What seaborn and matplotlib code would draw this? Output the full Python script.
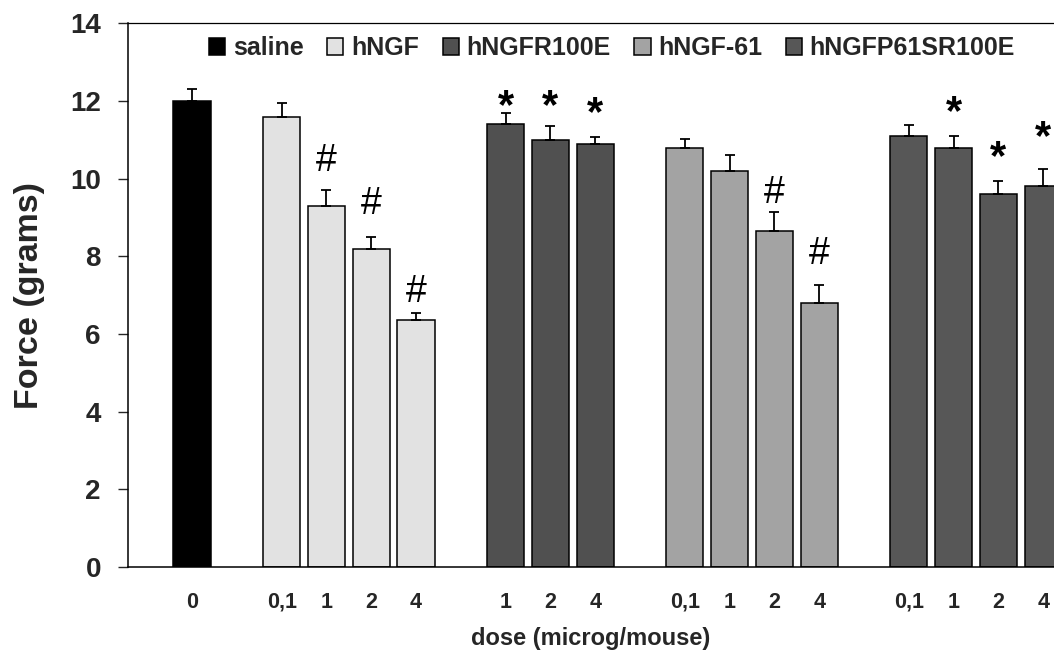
import numpy as np
import pandas as pd
import matplotlib
matplotlib.use("Agg")
import matplotlib.pyplot as plt
import seaborn as sns

# ---- data ----
groups = ["saline", "hNGF", "hNGFR100E", "hNGF-61", "hNGFP61SR100E"]
doses = [
    ["0"],
    ["0,1", "1", "2", "4"],
    ["1", "2", "4"],
    ["0,1", "1", "2", "4"],
    ["0,1", "1", "2", "4"],
]
force_mean = [
    [12.0],
    [11.6, 9.3, 8.2, 6.35],
    [11.4, 11.0, 10.9],
    [10.8, 10.2, 8.65, 6.8],
    [11.1, 10.8, 9.6, 9.8],
]
force_sem = [
    [0.3],
    [0.35, 0.4, 0.3, 0.2],
    [0.28, 0.35, 0.17],
    [0.22, 0.4, 0.48, 0.45],
    [0.28, 0.3, 0.35, 0.45],
]
# significance marks and the height (in grams) at which they sit
marks = [
    [""],
    ["", "#", "#", "#"],
    ["*", "*", "*"],
    ["", "", "#", "#"],
    ["", "*", "*", "*"],
]
mark_y = [
    [0],
    [0, 10.46, 9.35, 7.08],
    [12.13, 12.13, 11.95],
    [0, 0, 9.63, 8.06],
    [0, 11.97, 10.82, 11.33],
]
colors = ["#000000", "#e2e2e2", "#505050", "#a3a3a3", "#575757"]

# ---- build table (slot positions: one empty slot between groups) ----
rows = []
slot = 0
for g, ds, ms, es, mk, my in zip(groups, doses, force_mean, force_sem, marks, mark_y):
    for d, m, e, k, y in zip(ds, ms, es, mk, my):
        rows.append(dict(group=g, dose=d, force=m, sem=e, mark=k, mark_y=y, pos=slot))
        slot += 1
    slot += 1
df = pd.DataFrame(rows)

sns.set_style("white")
plt.rcParams["font.family"] = ["Liberation Sans", "DejaVu Sans"]

fig = plt.figure(figsize=(10.54, 6.51), dpi=100)
W, H = 1054, 651
ax = fig.add_axes([128 / W, 1 - 567 / H, 1 - 128 / W, (567 - 23.3) / H])

sns.barplot(data=df, x="pos", y="force", hue="group", hue_order=groups,
            palette=colors, native_scale=True, dodge=False, width=0.83,
            edgecolor="black", linewidth=1.1, errorbar=None, ax=ax, saturation=1)

ax.errorbar(df["pos"], df["force"], yerr=[np.zeros(len(df)), df["sem"]],
            fmt="none", ecolor="black", elinewidth=1.3, capsize=3.8, capthick=1.3, zorder=3)

for _, r in df.iterrows():
    if r["mark"] == "#":
        ax.text(r["pos"], r["mark_y"], "#", ha="center", va="center",
                fontsize=27, fontweight="normal", color="black")
    elif r["mark"] == "*":
        ax.text(r["pos"], r["mark_y"] - 0.28, "*", ha="center", va="center",
                fontsize=30, fontweight="bold", color="black")

ax.set_xlim(-1.43, 19.24)
ax.set_ylim(0, 14)
ax.set_yticks(np.arange(0, 15, 2))
ax.set_xticks(df["pos"])
ax.set_xticklabels(df["dose"])

for t in ax.get_xticklabels():
    t.set_fontweight("bold")
    t.set_fontsize(15.5)
    t.set_verticalalignment("baseline")
for t in ax.get_yticklabels():
    t.set_fontweight("bold")
    t.set_fontsize(20)

ax.tick_params(axis="x", length=0, pad=29.5)
ax.tick_params(axis="y", direction="out", length=7.5, width=1.0, pad=12, left=True)

ax.set_xlabel("dose (microg/mouse)", fontsize=17, fontweight="bold")
ax.xaxis.set_label_coords(0.5, -(645 - 567) / (567 - 23.3))
ax.xaxis.label.set_verticalalignment("baseline")
ax.set_ylabel("Force (grams)", fontsize=24.5, fontweight="bold", labelpad=18)

for s in ["left", "bottom"]:
    ax.spines[s].set_linewidth(1.1)
    ax.spines[s].set_color("black")
ax.spines["top"].set_linewidth(0.9)
ax.spines["top"].set_color("black")
ax.spines["right"].set_visible(False)

handles, labels = ax.get_legend_handles_labels()
ax.legend(handles, labels, ncol=5, loc="center",
          bbox_to_anchor=(612 / W, 1 - 48 / H), bbox_transform=fig.transFigure,
          frameon=False, prop=dict(weight="bold", size=18),
          handlelength=0.65, handleheight=0.65, handletextpad=0.3,
          columnspacing=0.95, borderaxespad=0)

fig.savefig("out.png", dpi=100)
